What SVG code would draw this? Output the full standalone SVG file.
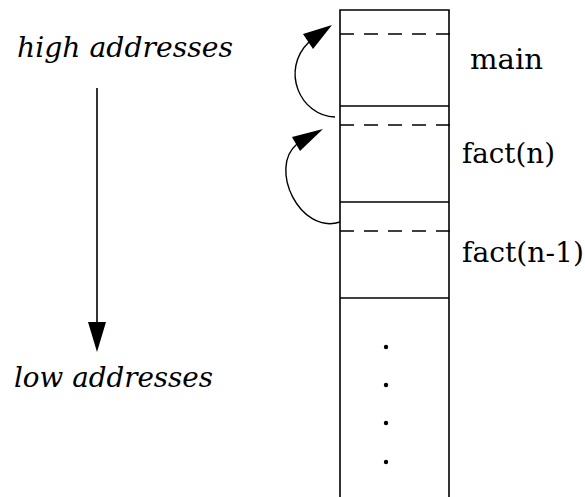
<svg xmlns="http://www.w3.org/2000/svg" width="585" height="497" viewBox="0 0 585 497">
  <style>
    .frame { stroke: #000; stroke-width: 1.6; fill: none; }
    .dash { stroke: #000; stroke-width: 1.4; stroke-dasharray: 14 10; fill: none; }
    .curve { stroke: #000; stroke-width: 1.4; fill: none; }
    .head { fill: #000; stroke: none; }
    .label { font-family: "DejaVu Serif", "Liberation Serif", serif; font-size: 27px; fill: #000; }
    .side { font-family: "DejaVu Serif", "Liberation Serif", serif; font-size: 28px; font-style: italic; fill: #000; }
  </style>

  <!-- address direction -->
  <g id="direction">
    <text class="side" x="17" y="57" textLength="216" lengthAdjust="spacingAndGlyphs">high addresses</text>
    <line class="frame" x1="97" y1="88" x2="97" y2="325"/>
    <polygon class="head" points="88,322 106,322 97,352"/>
    <text class="side" x="14" y="387" textLength="199" lengthAdjust="spacingAndGlyphs">low addresses</text>
  </g>

  <!-- stack column -->
  <g id="stack">
    <polyline class="frame" points="340,497 340,10 449,10 449,497"/>
    <line class="frame" x1="340" y1="106" x2="449" y2="106"/>
    <line class="frame" x1="340" y1="202" x2="449" y2="202"/>
    <line class="frame" x1="340" y1="298" x2="449" y2="298"/>
  </g>

  <g id="frame-main">
    <line class="dash" x1="340" y1="34" x2="452" y2="34"/>
    <text class="label" x="470" y="69" textLength="73" lengthAdjust="spacingAndGlyphs">main</text>
  </g>
  <g id="frame-fact-n">
    <line class="dash" x1="340" y1="125" x2="452" y2="125"/>
    <text class="label" x="462" y="163" textLength="93" lengthAdjust="spacingAndGlyphs">fact(n)</text>
  </g>
  <g id="frame-fact-n-1">
    <line class="dash" x1="340" y1="231" x2="452" y2="231"/>
    <text class="label" x="462" y="262" textLength="122" lengthAdjust="spacingAndGlyphs">fact(n-1)</text>
  </g>

  <g id="ellipsis">
    <circle cx="386" cy="347" r="2.2" class="head"/>
    <circle cx="386" cy="385" r="2.2" class="head"/>
    <circle cx="386" cy="423" r="2.2" class="head"/>
    <circle cx="386" cy="462" r="2.2" class="head"/>
  </g>

  <!-- return links -->
  <g id="connectors">
    <path class="curve" d="M335,117 C300,116 280,70 309,42"/>
    <polygon class="head" points="332,25 303,34 313,49"/>
    <path class="curve" d="M340,222 C300,235 268,168 297,144"/>
    <polygon class="head" points="323,129 292,137 300,151"/>
  </g>
</svg>
